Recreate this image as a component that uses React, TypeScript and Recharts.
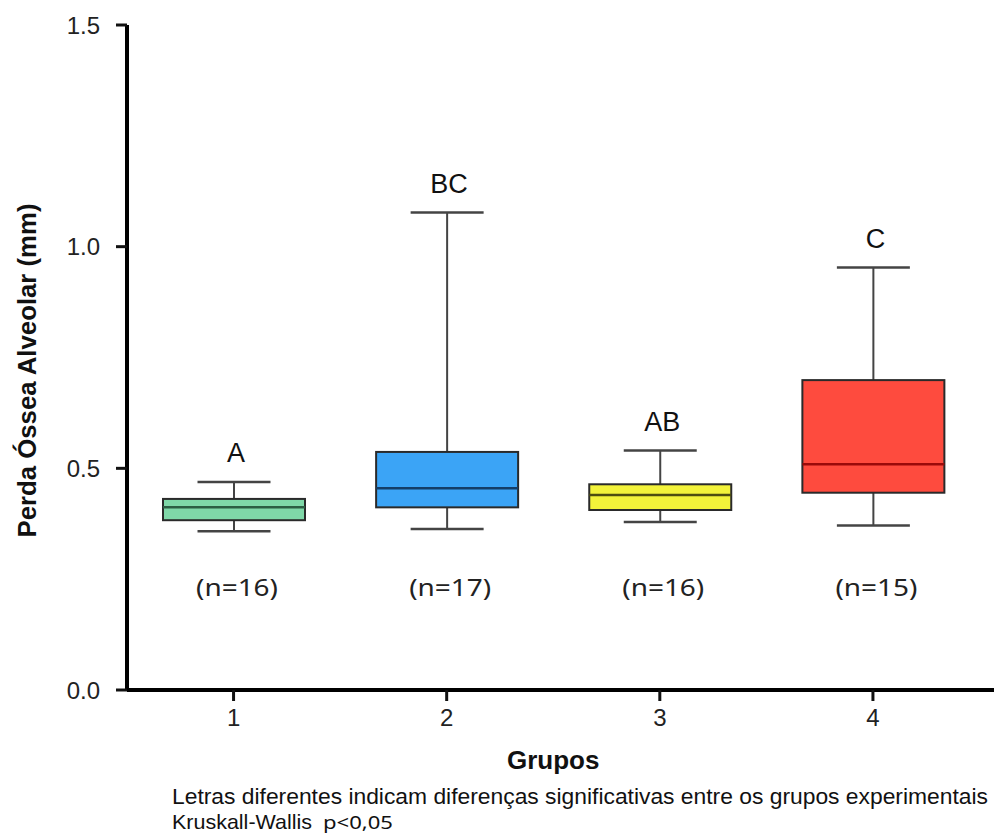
import { BarChart, Bar, XAxis, YAxis } from "recharts";

const groups = ["1", "2", "3", "4"];
const mins = [0.358, 0.363, 0.379, 0.371];
const q1s = [0.383, 0.412, 0.406, 0.445];
const medians = [0.412, 0.455, 0.44, 0.509];
const q3s = [0.431, 0.537, 0.464, 0.699];
const maxs = [0.469, 1.077, 0.54, 0.953];
const letters = ["A", "BC", "AB", "C"];
const counts = [16, 17, 16, 15];
const yTicks = [0, 0.5, 1, 1.5];
// where the (n=..) labels sit, in data units
const nLabelAt = 0.232;

const fills = ["#7fd8a8", "#3ba4f6", "#f3f33a", "#fe4b3e"];
const medianColors = ["#2c5e43", "#143e68", "#4d4d10", "#9a0a0a"];

const data = groups.map((g, i) => ({
  group: g,
  range: [mins[i], maxs[i]],
  q1: q1s[i],
  median: medians[i],
  q3: q3s[i],
  letter: letters[i],
  n: counts[i],
}));

const FONT = "'Liberation Sans', Arial, Helvetica, sans-serif";

const BoxShape = (props: any) => {
  const { x, y, width, height, payload, index } = props;
  const [lo, hi] = payload.range;
  const top = Math.min(y, y + height);
  const bottom = Math.max(y, y + height);
  // linear y scale recovered from the bar's own ends
  const toPx = (v: number) => bottom - ((v - lo) / (hi - lo)) * (bottom - top);
  const cx = x + width / 2;
  const capHalf = width * 0.257;
  const yQ1 = toPx(payload.q1);
  const yQ3 = toPx(payload.q3);
  const yMed = toPx(payload.median);
  return (
    <g>
      <line x1={cx} x2={cx} y1={top} y2={bottom} stroke="#444" strokeWidth={2} />
      <line x1={cx - capHalf} x2={cx + capHalf} y1={top} y2={top} stroke="#444" strokeWidth={2.5} />
      <line x1={cx - capHalf} x2={cx + capHalf} y1={bottom} y2={bottom} stroke="#444" strokeWidth={2.5} />
      <rect
        x={x}
        y={yQ3}
        width={width}
        height={yQ1 - yQ3}
        fill={fills[index]}
        stroke="#2a2a2a"
        strokeWidth={2}
      />
      <line x1={x} x2={x + width} y1={yMed} y2={yMed} stroke={medianColors[index]} strokeWidth={2.5} />
      <text
        x={cx + 2}
        y={top - 20}
        textAnchor="middle"
        fontFamily={FONT}
        fontSize={27}
        fill="#111"
      >
        {payload.letter}
      </text>
      <text
        x={cx + 3}
        y={toPx(nLabelAt) + 9}
        textAnchor="middle"
        fontFamily="'Noto Sans', 'Open Sans', sans-serif"
        fontSize={24}
        fill="#222"
        textLength={82}
        lengthAdjust="spacingAndGlyphs"
      >
        {`(n=${payload.n})`}
      </text>
    </g>
  );
};

const YLabel = (props: any) => {
  const { viewBox } = props;
  const cy = viewBox.y + viewBox.height / 2 + 13;
  return (
    <text
      transform={`translate(${viewBox.x + 36}, ${cy}) rotate(-90)`}
      textAnchor="middle"
      fontFamily={FONT}
      fontWeight="bold"
      fontSize={26}
      fill="#111"
      textLength={334}
      lengthAdjust="spacingAndGlyphs"
    >
      Perda Óssea Alveolar (mm)
    </text>
  );
};

const XLabel = (props: any) => {
  const { viewBox } = props;
  const cx = viewBox.x + (viewBox.width - 14.5) / 2;
  return (
    <g>
      <text
        x={cx}
        y={viewBox.y + 79}
        textAnchor="middle"
        fontFamily={FONT}
        fontWeight="bold"
        fontSize={26}
        fill="#111"
      >
        Grupos
      </text>
      <text
        x={172}
        y={804}
        fontFamily={FONT}
        fontSize={22}
        fill="#111"
        textLength={816}
        lengthAdjust="spacingAndGlyphs"
      >
        Letras diferentes indicam diferenças significativas entre os grupos experimentais
      </text>
      <text x={172} y={829} fontFamily={FONT} fontSize={21} fill="#111" textLength={140} lengthAdjust="spacingAndGlyphs">
        Kruskall-Wallis
      </text>
      <text
        x={323}
        y={829}
        fontFamily="'Noto Sans', 'Open Sans', sans-serif"
        fontSize={18}
        fill="#111"
        textLength={70}
        lengthAdjust="spacingAndGlyphs"
      >
        p&lt;0,05
      </text>
    </g>
  );
};

export default function App() {
  return (
    <div style={{ position: "absolute", left: 0, top: 0, background: "#fff" }}>
      <BarChart
        width={994}
        height={835}
        data={data}
        margin={{ top: 25, right: 0, bottom: 105, left: 0 }}
      >
        <XAxis
          dataKey="group"
          height={40}
          padding={{ left: 0, right: 14.5 }}
          axisLine={{ stroke: "#000", strokeWidth: 4 }}
          tickLine={{ stroke: "#111", strokeWidth: 3 }}
          tickSize={11}
          tickMargin={8}
          tick={{ fontFamily: FONT, fontSize: 24, fill: "#222" }}
          label={<XLabel />}
        />
        <YAxis
          width={127}
          domain={[0, 1.5]}
          ticks={yTicks}
          allowDataOverflow
          tickFormatter={(v: number) => v.toFixed(1)}
          axisLine={{ stroke: "#000", strokeWidth: 4 }}
          tickLine={{ stroke: "#111", strokeWidth: 3 }}
          tickSize={11}
          tickMargin={16}
          tick={{ fontFamily: FONT, fontSize: 24, fill: "#222" }}
          label={<YLabel />}
        />
        <Bar dataKey="range" barSize={142} shape={<BoxShape />} isAnimationActive={false} />
      </BarChart>
    </div>
  );
}
